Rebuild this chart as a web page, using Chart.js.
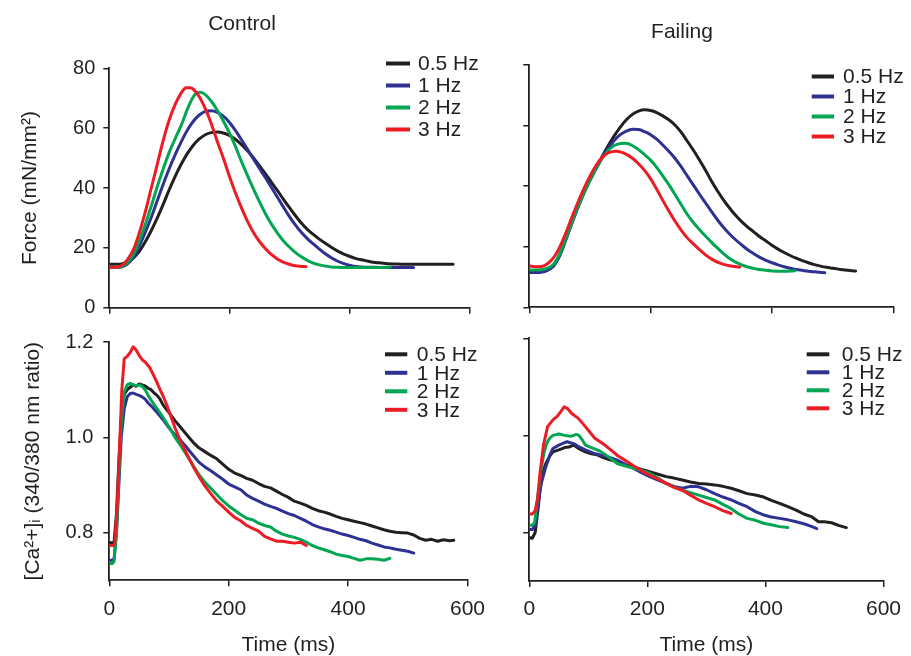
<!DOCTYPE html>
<html>
<head>
<meta charset="utf-8">
<script src="https://cdn.jsdelivr.net/npm/chart.js@4.4.0/dist/chart.umd.min.js"></script>
<style>
html,body{margin:0;padding:0;background:#fff;}
#wrap{position:relative;width:911px;height:656px;overflow:hidden;background:#fff;}
#wrap canvas{position:absolute;}
</style>
</head>
<body>
<div id="wrap">
<canvas id="tl"></canvas>
<canvas id="tr"></canvas>
<canvas id="bl"></canvas>
<canvas id="br"></canvas>
</div>
<script>
// ---------------- DATA ----------------
const seriesLabels = ['0.5 Hz', '1 Hz', '2 Hz', '3 Hz'];
const panelTitles = ['Control', 'Failing'];
const timeTitle = 'Time (ms)';
const forceTitle = 'Force (mN/mm\u00B2)';
const caTitle = '[Ca\u00B2+]\u1D62 (340/380 nm ratio)';
const timeTicks = [0, 200, 400, 600];
const forceTicks = [0, 20, 40, 60, 80];
const caTicks = [0.8, 1.0, 1.2];

// Control force: [time ms, force mN/mm2]
const ctrlForce05 = [[0,14.5],[10,14.5],[20,14.6],[30,15.2],[40,16.6],[50,18.8],[60,22],[70,25.8],[80,30],[90,34.6],[100,39.5],[110,44],[120,48],[130,51.5],[140,54.3],[150,56.4],[160,57.8],[170,58.5],[180,58.7],[190,58.4],[200,57.6],[210,56.3],[220,54.6],[230,52.5],[240,50.1],[250,47.5],[260,44.8],[270,42],[280,39.2],[290,36.3],[300,33.5],[310,30.8],[320,28.3],[330,26.2],[340,24.5],[350,22.9],[360,21.5],[370,20.2],[380,19],[390,18],[400,17.2],[410,16.5],[420,16],[430,15.6],[440,15.2],[450,15],[460,14.8],[480,14.6],[500,14.5],[540,14.5],[573,14.5]];
const ctrlForce1 = [[0,13.5],[10,13.5],[20,13.6],[30,14.6],[40,16.8],[50,20.6],[60,25.2],[70,30.2],[80,35.8],[90,41.3],[100,46.5],[110,51.2],[120,55.5],[130,59.3],[140,62.3],[150,64.4],[160,65.6],[170,65.8],[180,65.3],[190,64],[200,62],[210,59.3],[220,56.2],[230,53],[240,49.8],[250,46.6],[260,43.5],[270,40.3],[280,37],[290,33.7],[300,30.5],[310,27.7],[320,25.2],[330,23.1],[340,21.3],[350,19.6],[360,18],[370,16.7],[380,15.6],[390,14.8],[400,14.2],[410,13.8],[420,13.6],[440,13.5],[480,13.4],[507,13.4]];
const ctrlForce2 = [[0,13.5],[10,13.5],[20,13.7],[30,15],[40,17.8],[50,22.3],[60,27.8],[70,34],[80,40.5],[90,46.5],[100,52],[110,56.6],[120,61],[130,66.3],[140,70.5],[146,71.8],[152,72],[160,71.2],[170,69],[180,66],[190,62.4],[200,58.5],[210,54],[220,49],[230,44.3],[240,39.8],[250,35.5],[260,31.5],[270,28],[280,25],[290,22.4],[300,20.3],[310,18.5],[320,17],[330,15.8],[340,14.9],[350,14.3],[360,13.9],[370,13.6],[380,13.5],[420,13.4],[468,13.5]];
const ctrlForce3 = [[0,13.5],[10,13.5],[20,14],[30,16],[40,19.3],[50,25],[60,32],[70,40],[80,48],[90,56],[100,62.8],[110,68],[120,71.8],[128,73.5],[135,73.5],[140,73],[150,70.5],[160,66.5],[170,61.5],[180,55.5],[190,50],[200,44],[210,38.5],[220,33.5],[230,29],[240,25.2],[250,22.2],[260,19.8],[270,17.8],[280,16.3],[290,15.2],[300,14.5],[310,14],[320,13.8],[328,13.7]];

// Failing force
const failForce05 = [[0,11.8],[10,11.8],[20,11.9],[30,12.4],[40,13.7],[50,17.2],[60,22.3],[70,27.8],[80,33],[90,37.8],[100,42],[110,45.9],[120,49.7],[130,53.3],[140,56.6],[150,59.5],[160,61.9],[170,63.7],[180,64.8],[190,65.2],[200,65],[210,64.3],[220,63.2],[230,61.9],[240,60.2],[250,57.9],[260,55],[270,52],[280,48.8],[290,45.4],[300,41.8],[310,38.5],[320,35.5],[330,32.8],[340,30.4],[350,28.3],[360,26.5],[370,24.9],[380,23.3],[390,21.9],[400,20.5],[410,19.2],[420,18.1],[430,17.1],[440,16.2],[450,15.4],[460,14.7],[470,14.1],[480,13.6],[490,13.2],[500,12.9],[510,12.6],[520,12.3],[538,12]];
const failForce1 = [[0,11.5],[10,11.5],[20,11.6],[30,12.2],[40,13.6],[50,17],[60,22.2],[70,27.7],[80,32.9],[90,37.7],[100,41.9],[110,45.7],[120,49.3],[130,52.5],[140,55.1],[150,57],[160,58.2],[170,58.8],[180,58.7],[190,58],[200,57],[210,55.5],[220,53.6],[230,51.5],[240,49.2],[250,46.5],[260,43.5],[270,40.5],[280,37.5],[290,34.6],[300,31.7],[310,28.9],[320,26.4],[330,24.2],[340,22.3],[350,20.6],[360,19],[370,17.7],[380,16.5],[390,15.5],[400,14.7],[410,14],[420,13.4],[430,12.9],[440,12.5],[450,12.2],[460,11.9],[470,11.7],[487,11.4]];
const failForce2 = [[0,12.3],[10,12.3],[20,12.4],[30,12.9],[40,14.2],[50,17.6],[60,22.6],[70,28],[80,33.1],[90,37.8],[100,42],[110,45.8],[120,49.2],[130,51.8],[140,53.4],[150,54.1],[158,54.2],[165,53.9],[177,52.5],[190,50.4],[200,48.6],[210,46.2],[220,43.4],[230,40.5],[240,37.3],[250,34],[260,30.8],[270,28.1],[280,25.8],[290,23.6],[300,21.5],[310,19.6],[320,17.7],[330,16.1],[340,14.9],[350,14],[360,13.3],[370,12.8],[380,12.5],[390,12.2],[400,12],[420,11.9],[438,12.1]];
const failForce3 = [[0,13.6],[10,13.4],[20,13.5],[30,14.4],[40,16.4],[50,19.8],[60,24.4],[70,29.6],[80,34.6],[90,39.2],[100,43.3],[110,46.8],[120,49.5],[130,51],[144,51.5],[150,51.3],[160,50.5],[170,49.2],[180,47.4],[190,45.2],[200,42.4],[210,39],[220,35.3],[230,31.8],[240,28.5],[250,25.6],[260,23],[270,21],[280,19.1],[290,17.4],[300,16],[314,14.6],[330,13.7],[347,13.3]];

// Control [Ca2+]i: [time ms, ratio]
const ctrlCa05 = [[0,0.779],[5,0.779],[8,0.78],[12,0.84],[16,0.95],[20,1.04],[25,1.09],[30,1.1],[35,1.105],[40,1.11],[45,1.107],[50,1.112],[55,1.11],[60,1.108],[65,1.103],[70,1.1],[75,1.093],[80,1.088],[85,1.08],[90,1.068],[95,1.06],[100,1.052],[110,1.035],[120,1.02],[130,1.005],[140,0.99],[150,0.978],[160,0.97],[170,0.962],[180,0.955],[190,0.944],[200,0.933],[210,0.925],[220,0.92],[230,0.914],[240,0.91],[250,0.903],[260,0.897],[270,0.894],[280,0.887],[290,0.88],[300,0.874],[310,0.866],[320,0.862],[330,0.857],[340,0.851],[350,0.846],[360,0.843],[370,0.839],[380,0.834],[390,0.83],[400,0.827],[410,0.824],[420,0.821],[430,0.818],[440,0.814],[450,0.81],[460,0.806],[470,0.803],[480,0.801],[490,0.8],[500,0.799],[510,0.795],[520,0.788],[530,0.784],[540,0.786],[550,0.782],[560,0.785],[570,0.783],[577,0.784]];
const ctrlCa1 = [[0,0.742],[5,0.742],[8,0.745],[12,0.8],[16,0.9],[20,1.0],[25,1.06],[30,1.085],[35,1.092],[40,1.093],[45,1.09],[50,1.088],[55,1.085],[60,1.08],[65,1.072],[70,1.066],[80,1.052],[90,1.037],[100,1.02],[110,1.005],[120,0.993],[130,0.978],[140,0.963],[150,0.948],[160,0.938],[170,0.93],[180,0.921],[190,0.912],[200,0.902],[210,0.896],[220,0.89],[230,0.879],[240,0.872],[250,0.866],[260,0.86],[270,0.855],[280,0.851],[290,0.845],[300,0.84],[310,0.836],[320,0.83],[330,0.824],[340,0.817],[350,0.812],[360,0.808],[370,0.805],[380,0.801],[390,0.797],[400,0.794],[410,0.79],[420,0.786],[430,0.783],[440,0.778],[450,0.774],[460,0.77],[470,0.768],[480,0.765],[490,0.763],[500,0.761],[510,0.757]];
const ctrlCa2 = [[0,0.735],[5,0.735],[8,0.74],[12,0.8],[16,0.92],[20,1.03],[25,1.095],[30,1.11],[35,1.113],[40,1.11],[45,1.108],[50,1.11],[55,1.107],[60,1.1],[65,1.088],[70,1.078],[80,1.06],[90,1.042],[100,1.022],[110,1.0],[120,0.982],[130,0.962],[140,0.942],[150,0.922],[160,0.906],[170,0.893],[180,0.88],[190,0.867],[200,0.856],[210,0.847],[220,0.838],[230,0.83],[240,0.827],[250,0.82],[260,0.815],[270,0.812],[280,0.803],[290,0.797],[300,0.793],[310,0.79],[320,0.786],[330,0.78],[340,0.773],[350,0.768],[360,0.764],[370,0.76],[380,0.755],[390,0.752],[400,0.75],[410,0.746],[420,0.742],[430,0.745],[440,0.745],[450,0.744],[460,0.742],[470,0.746]];
const ctrlCa3 = [[0,0.773],[5,0.773],[9,0.775],[13,0.85],[17,0.97],[21,1.1],[25,1.165],[30,1.17],[35,1.178],[40,1.19],[45,1.183],[50,1.172],[55,1.163],[60,1.158],[68,1.146],[75,1.128],[80,1.115],[85,1.1],[90,1.087],[95,1.072],[100,1.055],[110,1.02],[120,0.99],[130,0.965],[140,0.94],[150,0.918],[160,0.898],[170,0.882],[180,0.866],[190,0.855],[200,0.843],[210,0.832],[220,0.825],[230,0.815],[240,0.809],[250,0.803],[260,0.792],[270,0.787],[280,0.782],[290,0.782],[300,0.78],[310,0.778],[320,0.78],[330,0.773]];

// Failing [Ca2+]i
const failCa05 = [[0,0.789],[5,0.788],[10,0.8],[15,0.85],[18,0.887],[22,0.92],[28,0.942],[35,0.958],[40,0.966],[50,0.97],[60,0.975],[67,0.976],[75,0.98],[85,0.972],[95,0.966],[105,0.962],[115,0.96],[122,0.956],[135,0.95],[149,0.946],[160,0.94],[177,0.935],[190,0.93],[204,0.925],[218,0.92],[232,0.915],[245,0.912],[259,0.908],[273,0.904],[287,0.901],[300,0.9],[314,0.898],[328,0.895],[342,0.891],[355,0.886],[369,0.88],[383,0.877],[397,0.873],[410,0.866],[424,0.86],[438,0.853],[452,0.846],[465,0.838],[479,0.832],[490,0.822],[500,0.822],[512,0.82],[525,0.814],[537,0.81]];
const failCa1 = [[0,0.806],[5,0.806],[10,0.815],[15,0.86],[20,0.9],[28,0.935],[35,0.96],[40,0.973],[50,0.98],[64,0.987],[75,0.983],[85,0.976],[95,0.97],[110,0.963],[122,0.959],[135,0.955],[149,0.949],[163,0.94],[177,0.932],[190,0.923],[204,0.915],[218,0.908],[232,0.901],[245,0.895],[259,0.891],[273,0.895],[287,0.894],[300,0.888],[314,0.88],[328,0.873],[342,0.867],[355,0.86],[369,0.853],[383,0.843],[397,0.836],[410,0.832],[424,0.829],[438,0.826],[452,0.822],[465,0.818],[479,0.812],[487,0.808]];
const failCa2 = [[0,0.815],[5,0.815],[9,0.82],[15,0.88],[20,0.93],[25,0.965],[30,0.985],[35,0.995],[40,1.0],[50,1.003],[60,1.0],[70,0.998],[80,1.002],[84,1.0],[90,0.99],[95,0.98],[105,0.975],[115,0.97],[122,0.966],[135,0.955],[149,0.942],[163,0.937],[177,0.932],[190,0.928],[204,0.922],[218,0.912],[232,0.901],[245,0.894],[259,0.887],[273,0.882],[287,0.877],[300,0.872],[314,0.867],[328,0.858],[342,0.849],[355,0.838],[369,0.829],[383,0.825],[397,0.819],[410,0.816],[424,0.812],[438,0.81]];
const failCa3 = [[0,0.838],[5,0.838],[10,0.845],[14,0.87],[18,0.92],[24,0.98],[31,1.018],[40,1.032],[48,1.04],[54,1.05],[59,1.059],[65,1.055],[72,1.045],[83,1.035],[95,1.018],[111,0.994],[128,0.98],[140,0.968],[150,0.958],[163,0.948],[177,0.937],[190,0.927],[204,0.918],[218,0.91],[232,0.901],[245,0.893],[259,0.887],[273,0.877],[287,0.867],[300,0.86],[314,0.853],[328,0.845],[342,0.839]];

// ---------------- STYLE / LAYOUT ----------------
const FONT = '"Liberation Sans", Arial, Helvetica, sans-serif';
const INK = '#231f20';
const seriesColors = ['#231f20', '#2e3192', '#00a651', '#ed1c24'];
const drawOrder = [4, 3, 2, 1];
Chart.defaults.font.family = FONT;
Chart.defaults.font.size = 21;
Chart.defaults.color = INK;

const panelLegend = {
  id: 'panelLegend',
  afterDatasetsDraw(chart, args, o) {
    if (!o || !o.rows) return;
    const ctx = chart.ctx;
    ctx.save();
    ctx.font = '21px ' + FONT;
    ctx.textBaseline = 'middle';
    ctx.textAlign = 'left';
    chart.data.datasets.forEach((ds, i) => {
      const y = o.y0 + i * o.dy;
      ctx.strokeStyle = ds.borderColor;
      ctx.lineWidth = 4;
      ctx.lineCap = 'butt';
      ctx.beginPath();
      ctx.moveTo(o.x1, y);
      ctx.lineTo(o.x2, y);
      ctx.stroke();
      ctx.fillStyle = INK;
      ctx.fillText(ds.label, o.tx, y + 1);
    });
    ctx.restore();
  }
};

function makeDatasets(seriesList, smooth) {
  return seriesList.map((pts, i) => ({
    label: seriesLabels[i],
    data: pts.map(p => ({x: p[0], y: p[1]})),
    borderColor: seriesColors[i],
    backgroundColor: seriesColors[i],
    borderWidth: 3,
    pointRadius: 0,
    fill: false,
    order: drawOrder[i],
    tension: 0,
    cubicInterpolationMode: smooth ? 'monotone' : 'default',
    borderJoinStyle: 'round',
    borderCapStyle: 'round'
  }));
}

function xScale(showLabels, h) {
  return {
    type: 'linear', min: 0, max: 600,
    afterBuildTicks: s => { s.ticks = timeTicks.map(v => ({value: v})); },
    ticks: { display: showLabels, padding: 10, color: INK, font: {size: 21}, callback: v => String(v), maxRotation: 0 },
    grid: { drawOnChartArea: false, drawTicks: true, tickLength: 6, color: INK, lineWidth: 1.5 },
    border: { display: true, color: INK, width: 1.8 },
    title: { display: showLabels, text: timeTitle, color: INK, font: {size: 21}, padding: {top: 0, bottom: 0.4} },
    afterFit: s => { s.height = h; }
  };
}

function yScale(isForce, showLabels, w, titlePad) {
  return {
    type: 'linear', min: isForce ? 0 : 0.7, max: isForce ? 80 : 1.2,
    afterBuildTicks: s => { s.ticks = (isForce ? forceTicks : caTicks).map(v => ({value: v})); },
    ticks: { display: showLabels, padding: isForce ? 8 : 10, color: INK, font: {size: 20},
             callback: v => isForce ? String(v) : Number(v).toFixed(1) },
    grid: { drawOnChartArea: false, drawTicks: true, tickLength: 6, color: INK, lineWidth: 1.5 },
    border: { display: true, color: INK, width: 1.8 },
    title: { display: showLabels, text: isForce ? forceTitle : caTitle, color: INK, font: {size: 21}, padding: {top: titlePad, bottom: 0} },
    afterFit: s => { s.width = w; }
  };
}

function makePanel(id, box, cfg) {
  const cv = document.getElementById(id);
  cv.width = box.w; cv.height = box.h;
  cv.style.left = box.x + 'px'; cv.style.top = box.y + 'px';
  cv.style.width = box.w + 'px'; cv.style.height = box.h + 'px';
  return new Chart(cv, {
    type: 'line',
    data: { datasets: makeDatasets(cfg.series, cfg.smooth) },
    options: {
      responsive: false,
      animation: false,
      devicePixelRatio: 1,
      events: [],
      layout: { padding: cfg.pad },
      scales: { x: cfg.x, y: cfg.y },
      plugins: {
        legend: { display: false },
        tooltip: { enabled: false },
        title: cfg.title ? { display: true, text: cfg.title, color: INK, font: {size: 21, weight: 'normal'}, padding: cfg.titlePad } : { display: false },
        panelLegend: cfg.legend
      }
    },
    plugins: [panelLegend]
  });
}

// Top-left: Control force
makePanel('tl', {x: 0, y: 0, w: 495, h: 330}, {
  series: [ctrlForce05, ctrlForce1, ctrlForce2, ctrlForce3], smooth: true,
  pad: {left: 14.7, top: 0, right: 25.7, bottom: 10.3},
  title: panelTitles[0], titlePad: {top: 12.1, bottom: 31},
  x: xScale(false, 12), y: yScale(true, true, 94.6, 3),
  legend: {rows: true, x1: 386, x2: 410, tx: 418, y0: 63.5, dy: 22}
});
// Top-right: Failing force
makePanel('tr', {x: 470, y: 0, w: 441, h: 330}, {
  series: [failForce05, failForce1, failForce2, failForce3], smooth: true,
  pad: {left: 0.7, top: 0, right: 17.7, bottom: 10.7},
  title: panelTitles[1], titlePad: {top: 19.7, bottom: 20.1},
  x: xScale(false, 12), y: yScale(true, false, 58.6, 0),
  legend: {rows: true, x1: 341.7, x2: 364, tx: 373, y0: 76.5, dy: 20}
});
// Bottom-left: Control Ca
makePanel('bl', {x: 0, y: 320, w: 495, h: 338}, {
  series: [ctrlCa05, ctrlCa1, ctrlCa2, ctrlCa3], smooth: false,
  pad: {left: 0, top: 18.3, right: 25.7, bottom: 0},
  x: xScale(true, 77.7), y: yScale(false, true, 109.3, 20.4),
  legend: {rows: true, x1: 385, x2: 407.3, tx: 416.7, y0: 34.3, dy: 18.5}
});
// Bottom-right: Failing Ca
makePanel('br', {x: 470, y: 320, w: 441, h: 338}, {
  series: [failCa05, failCa1, failCa2, failCa3], smooth: false,
  pad: {left: 0, top: 18.3, right: 17.7, bottom: 0},
  x: xScale(true, 77), y: yScale(false, false, 59.3, 0),
  legend: {rows: true, x1: 336.7, x2: 359.3, tx: 371.7, y0: 34.3, dy: 18}
});
</script>
</body>
</html>
